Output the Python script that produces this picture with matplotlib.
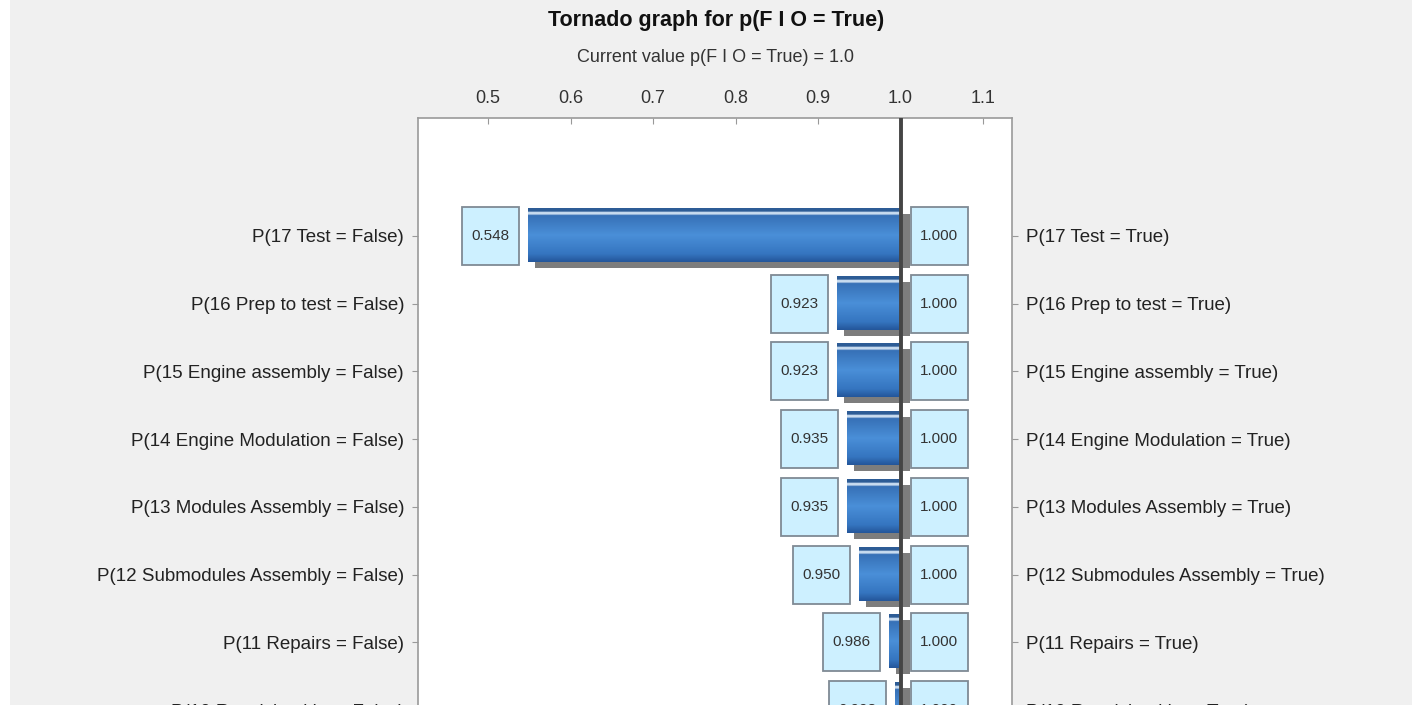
import numpy as np
import matplotlib
matplotlib.use('Agg')
from matplotlib import pyplot as plt
from matplotlib.patches import Rectangle
from matplotlib.colors import LinearSegmentedColormap

# data
left_labels = ['P(17 Test = False)', 'P(16 Prep to test = False)', 'P(15 Engine assembly = False)',
               'P(14 Engine Modulation = False)', 'P(13 Modules Assembly = False)',
               'P(12 Submodules Assembly = False)', 'P(11 Repairs = False)',
               'P(10 Receiving kits = False)']
right_labels = ['P(17 Test = True)', 'P(16 Prep to test = True)', 'P(15 Engine assembly = True)',
                'P(14 Engine Modulation = True)', 'P(13 Modules Assembly = True)',
                'P(12 Submodules Assembly = True)', 'P(11 Repairs = True)',
                'P(10 Receiving kits = True)']
low_values = [0.548, 0.923, 0.923, 0.935, 0.935, 0.950, 0.986, 0.993]
high_values = [1.000, 1.000, 1.000, 1.000, 1.000, 1.000, 1.000, 1.000]
current_value = 1.0
x_ticks = [0.5, 0.6, 0.7, 0.8, 0.9, 1.0, 1.1]

plt.rcParams['font.family'] = ['Liberation Sans', 'DejaVu Sans']

fig = plt.figure(figsize=(14.12, 7.05), dpi=100, facecolor='#f0f0f0')
fig.patches.append(Rectangle((0, 0), 10 / 1412, 1, transform=fig.transFigure,
                             facecolor='white', edgecolor='none'))
ax = fig.add_axes([0.296, -0.065, 0.4207, 0.8976])
ax.set_facecolor('white')

xmin, xmax = 0.415, 1.135
ymin, ymax = 7.6, -1.74
px = (xmax - xmin) / (0.4207 * 1412)   # data units per pixel in x
py = (ymin - ymax) / (0.8976 * 705)    # data units per pixel in y

grad = LinearSegmentedColormap.from_list('bar', [
    (0.0, '#2d5c96'), (0.06, '#2d5c96'), (0.07, '#c9dcf0'), (0.11, '#c9dcf0'),
    (0.13, '#3670b6'), (0.5, '#4a8fd8'), (0.85, '#3575c0'), (1.0, '#24569a')])
g = np.linspace(0, 1, 200).reshape(-1, 1)

bar_h = 54 * py
box_w = 57 * px
box_h = 58 * py
for i, (lo, hi) in enumerate(zip(low_values, high_values)):
    top = i - 28 * py
    # shadow
    ax.add_patch(Rectangle((lo + 7 * px, top + 6 * py), hi - lo + 2 * px, bar_h,
                           facecolor='#7d7d7d', edgecolor='none', zorder=2))
    ax.imshow(g, cmap=grad, aspect='auto', extent=[lo, hi, top + bar_h, top],
              zorder=3, interpolation='bilinear')
    # value boxes
    ax.add_patch(Rectangle((lo - 9 * px - box_w, i - box_h / 2), box_w, box_h,
                           facecolor='#cdf0ff', edgecolor='#7f8a94', linewidth=1.3, zorder=4))
    ax.text(lo - 9 * px - box_w / 2, i, '%.3f' % lo, ha='center', va='center',
            fontsize=11, color='#333333', zorder=5)
    ax.add_patch(Rectangle((hi + 10 * px, i - box_h / 2), box_w, box_h,
                           facecolor='#cdf0ff', edgecolor='#7f8a94', linewidth=1.3, zorder=4))
    ax.text(hi + 10 * px + box_w / 2, i, '%.3f' % hi, ha='center', va='center',
            fontsize=11, color='#333333', zorder=5)

ax.axvline(current_value, color='#454545', linewidth=2.8, zorder=6)

ax.set_xlim(xmin, xmax)
ax.set_ylim(ymin, ymax)
ax.xaxis.tick_top()
ax.set_xticks(x_ticks)
ax.set_xticklabels(['%.1f' % t for t in x_ticks])
ax.tick_params(axis='x', direction='in', length=4, color='#999999', labelsize=13,
               labelcolor='#333333', pad=8)
ax.set_yticks(range(len(left_labels)))
ax.set_yticklabels(left_labels)
ax.tick_params(axis='y', direction='out', length=4, color='#999999', labelsize=13.5,
               labelcolor='#222222', pad=6)
for s in ax.spines.values():
    s.set_color('#9a9a9a')
    s.set_linewidth(1.2)

ax2 = ax.twinx()
ax2.set_ylim(ymin, ymax)
ax2.set_yticks(range(len(right_labels)))
ax2.set_yticklabels(right_labels)
ax2.tick_params(axis='y', direction='out', length=4, color='#999999', labelsize=13.5,
                labelcolor='#222222', pad=6)
for s in ax2.spines.values():
    s.set_visible(False)

fig.text(0.507, 0.971, 'Tornado graph for p(F I O = True)', ha='center', va='center',
         fontsize=15.5, fontweight='bold', color='#111111')
fig.text(0.507, 0.918, 'Current value p(F I O = True) = 1.0', ha='center', va='center',
         fontsize=13, color='#333333')

fig.savefig('out.png', dpi=100, facecolor=fig.get_facecolor())
